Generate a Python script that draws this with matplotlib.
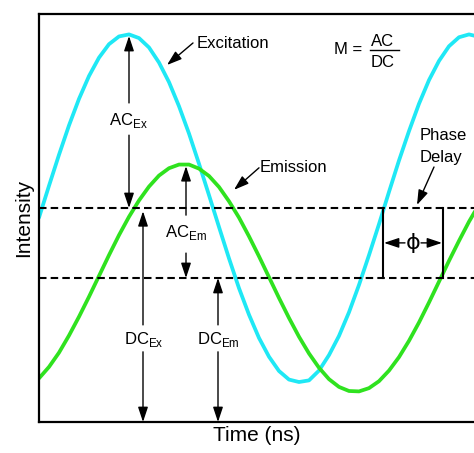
import matplotlib
matplotlib.use('Agg')
import numpy as np
import matplotlib.pyplot as plt

plt.rcParams['font.family'] = ['Liberation Sans', 'DejaVu Sans']
plt.rcParams['mathtext.fontset'] = 'custom'
plt.rcParams['mathtext.rm'] = 'Liberation Sans'

# sample times (arbitrary units) and intensities
time = np.arange(0, 45, 1.0)
excitation = [50.1, 57.9, 65.5, 72.7, 79.2, 84.8, 89.3, 92.6, 94.5, 95.0,
              94.1, 91.8, 88.1, 83.3, 77.4, 70.7, 63.3, 55.6, 47.8, 40.1,
              32.8, 26.3, 20.6, 16.0, 12.5, 10.4, 9.8, 10.2, 12.6, 16.4,
              21.1, 26.9, 33.6, 40.9, 48.5, 56.4, 64.1, 71.3, 78.0, 83.8,
              88.5, 92.1, 94.3, 95.0, 94.4]
emission = [10.7, 13.5, 17.0, 21.2, 25.8, 30.7, 35.8, 40.9, 45.8, 50.3,
            54.3, 57.7, 60.4, 62.2, 63.1, 63.1, 62.1, 60.3, 57.6, 54.1,
            50.1, 45.5, 40.6, 35.5, 30.4, 25.5, 20.9, 16.8, 13.3, 10.5,
            8.6, 7.6, 7.5, 8.3, 10.0, 12.6, 15.9, 19.9, 24.4, 29.3,
            34.4, 39.5, 44.4, 49.1, 53.3]
dc_ex = 52.45
dc_em = 35.3

fig = plt.figure(figsize=(4.74, 4.53), dpi=100)
ax = fig.add_axes([39/474, 31/453, 435/474, 408/453])

ax.plot(time, excitation, color='#1fe8f5', lw=2.7, solid_capstyle='round')
ax.plot(time, emission, color='#2fe21f', lw=2.7, solid_capstyle='round')
ax.axhline(dc_ex, color='k', lw=1.5, linestyle=(0, (3.6, 2.0)))
ax.axhline(dc_em, color='k', lw=1.5, linestyle=(0, (3.6, 2.0)))

ax.set_xlim(0, 43.5)
ax.set_ylim(0, 100)
ax.set_xticks([])
ax.set_yticks([])
for s in ['top', 'left', 'bottom']:
    ax.spines[s].set_linewidth(1.6)
ax.spines['right'].set_visible(False)
ax.set_xlabel('Time (ns)', fontsize=15, labelpad=3)
ax.set_ylabel('Intensity', fontsize=15, labelpad=4)

def arr(x0, y0, x1, y1, hl=0.9, hw=0.3):
    ax.annotate('', xy=(x1, y1), xytext=(x0, y0),
                arrowprops=dict(arrowstyle='-|>,head_length=%g,head_width=%g' % (hl, hw),
                                color='k', lw=1, mutation_scale=10,
                                shrinkA=0, shrinkB=0))

def lab(x, y, s, ha='center', size=12):
    ax.text(x, y, s, ha=ha, va='baseline', fontsize=size)

# AC / DC arrows
lab(8.9, 72.8, r'AC$_{\rm Ex}$')
arr(9.0, 78.2, 9.0, 94.6)
arr(9.0, 70.3, 9.0, dc_ex)
lab(14.65, 45.3, r'AC$_{\rm Em}$')
arr(14.7, 50.7, 14.7, 62.7)
arr(14.7, 41.4, 14.7, dc_em)
lab(10.5, 19.1, r'DC$_{\rm Ex}$')
arr(10.4, 23.8, 10.4, dc_ex - 0.8)
arr(10.4, 17.2, 10.4, 0)
lab(17.95, 19.1, r'DC$_{\rm Em}$')
arr(17.9, 23.8, 17.9, dc_em)
arr(17.9, 17.2, 17.9, 0)

# curve labels
lab(15.8, 91.7, 'Excitation', ha='left')
arr(15.4, 92.9, 12.8, 87.5)
lab(22.1, 61.3, 'Emission', ha='left')
arr(22.0, 62.3, 19.5, 56.9)
lab(38.1, 69.1, 'Phase', ha='left')
lab(38.1, 63.7, 'Delay', ha='left')
arr(39.5, 62.5, 37.8, 53.2)

# modulation formula
lab(29.5, 90.2, 'M =', ha='left')
lab(34.4, 92.2, 'AC')
ax.plot([33.1, 36.0], [91.2, 91.2], color='k', lw=1)
lab(34.4, 87.0, 'DC')

# phase delay marker
ax.plot([34.4, 34.4], [dc_em, dc_ex], color='k', lw=1.5)
ax.plot([40.4, 40.4], [dc_em, dc_ex], color='k', lw=1.5)
ax.text(37.4, 43.9, '\u03d5', ha='center', va='center', fontsize=16,
        family=['DejaVu Sans'])
arr(36.6, 43.9, 34.5, 43.9)
arr(38.2, 43.9, 40.3, 43.9)

fig.savefig('out.png', dpi=100)
